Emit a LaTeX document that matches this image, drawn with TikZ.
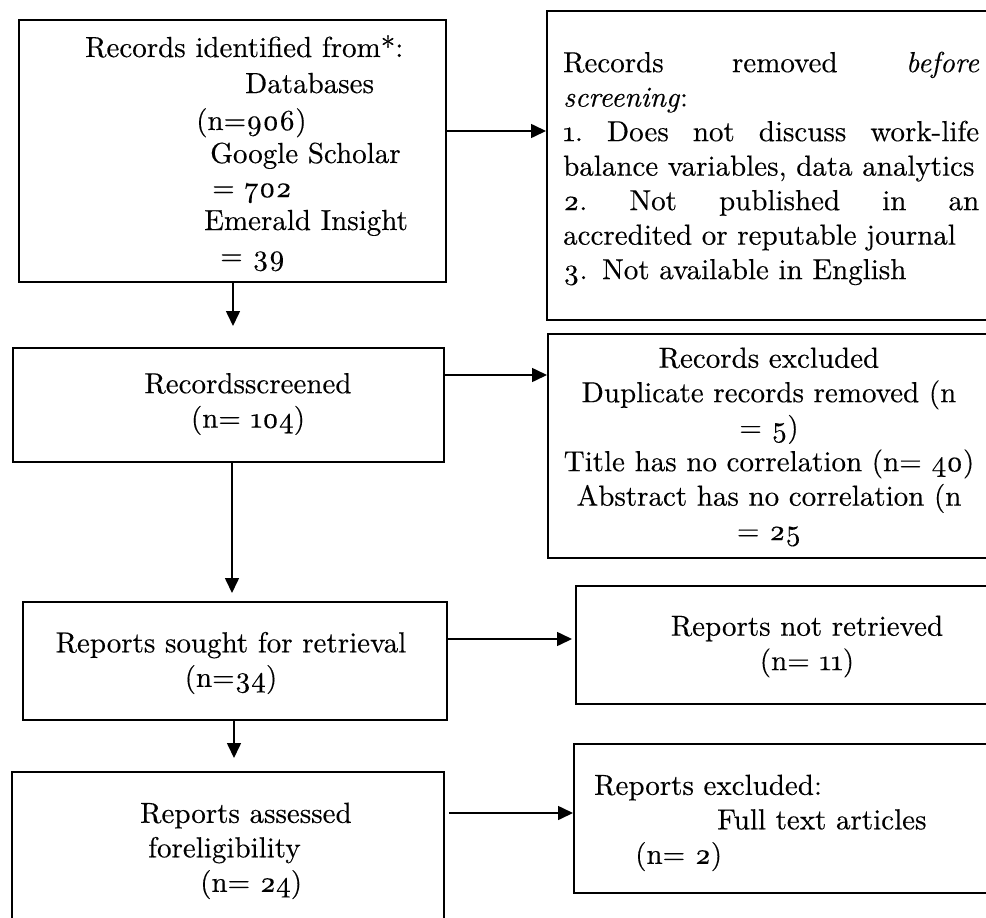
\documentclass[tikz,border=0pt]{standalone}
\usepackage{fontspec}
\setmainfont{lmroman10-regular}[Extension=.otf, ItalicFont=lmroman10-italic, BoldFont=lmroman10-bold, Numbers=OldStyle, FakeBold=0.3]
\usetikzlibrary{arrows.meta}
\begin{document}
\begin{tikzpicture}[x=1pt,y=-1pt,
  box/.style={draw, line width=1.8pt, rectangle, anchor=north west, inner sep=0pt},
  txt/.style={inner sep=0pt, font=\fontsize{29}{34.5}\selectfont},
  ln/.style={txt, anchor=base west},
  arr/.style={line width=1.6pt, -{Triangle[length=15pt,width=14pt]}}]
\useasboundingbox (0,0) rectangle (986,918);
\fill[white] (0,0) rectangle (986,918);
\clip (0,0) rectangle (986,918);
% boxes
\node[box, minimum width=427pt, minimum height=262pt] (b1) at (18,19) {};
\node[box, minimum width=449pt, minimum height=309pt] (b2) at (546,10) {};
\node[box, minimum width=431pt, minimum height=114pt] (b3) at (12,347) {};
\node[box, minimum width=448pt, minimum height=224pt] (b4) at (547,333) {};
\node[box, minimum width=424pt, minimum height=118pt] (b5) at (22,601) {};
\node[box, minimum width=420pt, minimum height=118pt] (b6) at (575,585) {};
\node[box, minimum width=432pt, minimum height=160pt] (b7) at (11,771) {};
\node[box, minimum width=422pt, minimum height=149pt] (b8) at (573,743) {};
% texts of box 1, line by line
\node[ln] (t1a) at (85,57) {Records identified from*:};
\node[ln] (t1b) at (245,93) {Databases};
\node[ln] (t1c) at (196,130) {(n=906)};
\node[ln] (t1d) at (210,163) {Google Scholar};
\node[ln] (t1e) at (212,197) {= 702};
\node[ln] (t1f) at (204,230) {Emerald Insight};
\node[ln] (t1g) at (220,265) {= 39};
% other texts
\node[txt, anchor=north west, text width=416pt, align=left] (t2) at (563,51.5) {Records\hfill removed\hfill \textit{before}\\
 \textit{screening}:\\
 1.\hfill Does\hfill not\hfill discuss\hfill work-life\\
 balance variables, data analytics\\
 2.\hfill Not\hfill published\hfill in\hfill an\\
 accredited or reputable journal\\
 3. Not available in English};
\node[txt, align=center] (t3) at (248,404) {Recordsscreened\\(n= 104)};
\node[txt, align=center] (t4) at (769,447) {Records excluded\\Duplicate records removed (n\\= 5)\\Title has no correlation (n= 40)\\Abstract has no correlation (n\\= 25};
\node[txt, align=center] (t5) at (231,663) {Reports sought for retrieval\\(n=34)};
\node[txt, align=center] (t6) at (807,646.5) {Reports not retrieved\\(n= 11)};
\node[txt, anchor=north west, align=left] (t7) at (140,802.5) {Reports assessed\\
 \hspace*{8pt}foreligibility\\
 \hspace*{60pt}(n= 24)};
\node[txt, anchor=north west, align=left] (t8) at (594,774.5) {Reports excluded:\\
 \hspace*{123pt}Full text articles\\
 \hspace*{41pt}(n= 2)};
% connector helper coordinates
\coordinate (h1) at (0,131);
\coordinate (v1) at (233,0);
\coordinate (h2) at (0,375);
\coordinate (v2) at (232,0);
\coordinate (h3) at (0,639);
\coordinate (v3) at (234,0);
\coordinate (h4) at (0,813);
% connectors
\draw[arr] (b1.east |- h1) -- (b2.west |- h1);
\draw[arr, shorten >=21pt] (b1.south -| v1) -- (b3.north -| v1);
\draw[arr] (b3.east |- h2) -- (b4.west |- h2);
\draw[arr, shorten >=8pt] (b3.south -| v2) -- (b5.north -| v2);
\draw[arr, shorten >=3pt] (b5.east |- h3) -- (b6.west |- h3);
\draw[arr, shorten >=13pt] (b5.south -| v3) -- (b7.north -| v3);
\draw[arr, shorten <=4pt] (b7.east |- h4) -- (b8.west |- h4);
\end{tikzpicture}
\end{document}
